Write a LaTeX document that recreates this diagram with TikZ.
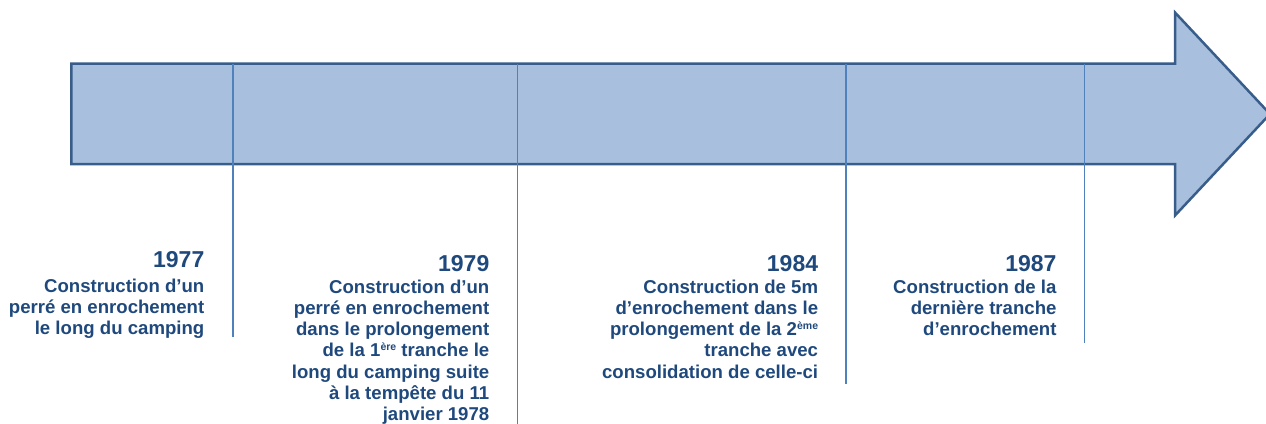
\documentclass[tikz,border=0pt]{standalone}
\usepackage{fontspec}
\setmainfont{Liberation Sans}
\definecolor{fillc}{HTML}{A8C0DE}
\definecolor{edgec}{HTML}{385D8A}
\definecolor{linec}{HTML}{4F81BD}
\definecolor{txt}{HTML}{1F497D}
\newcommand\supxx[1]{\raisebox{6pt}{\fontsize{10.5}{11}\selectfont #1}}
\begin{document}
\begin{tikzpicture}[x=1pt,y=-1pt,
  yearlbl/.style={anchor=base east, inner sep=0pt, text=txt, font=\bfseries\fontsize{23}{26}\selectfont},
  desclbl/.style={anchor=base east, inner sep=0pt, text=txt, font=\bfseries\fontsize{18.6}{21.2}\selectfont},
  tick/.style={draw=linec, line width=1.6pt},
  arrowbody/.style={fill=fillc, draw=edgec, line width=2.5pt, line join=miter}]
\useasboundingbox (0,0) rectangle (1266,423);
\draw[arrowbody] (71.3,63.5) -- (1175,63.5) -- (1175,12.5) -- (1270,114) -- (1175,215.5) -- (1175,164) -- (71.3,164) -- cycle;
% tick coordinates
\coordinate (t1) at (233,64);   \coordinate (b1) at (233,337);
\coordinate (t2) at (517.5,64); \coordinate (b2) at (517.5,424);
\coordinate (t3) at (846,64);   \coordinate (b3) at (846,384);
\coordinate (t4) at (1084.5,64);\coordinate (b4) at (1084.5,343);
\draw[tick] (t1) -- (b1);
\draw[tick] (t2) -- (b2);
\draw[tick] (t3) -- (b3);
\draw[tick] (t4) -- (b4);
% labels
\node[yearlbl] (y1) at (204.5,267.5) {1977};
\node[desclbl] (d1) at (204.5,292.5) {\begin{tabular}[t]{@{}r@{}}Construction d’un\\perré en enrochement\\le long du camping\end{tabular}};
\node[yearlbl] (y2) at (489.5,271) {1979};
\node[desclbl] (d2) at (489.5,293.3) {\begin{tabular}[t]{@{}r@{}}Construction d’un\\perré en enrochement\\dans le prolongement\\de la 1\supxx{ère} tranche le\\long du camping suite\\à la tempête du 11\\janvier 1978\end{tabular}};
\node[yearlbl] (y3) at (818.3,271) {1984};
\node[desclbl] (d3) at (818.3,293.3) {\begin{tabular}[t]{@{}r@{}}Construction de 5m\\d’enrochement dans le\\prolongement de la 2\supxx{ème}\\tranche avec\\consolidation de celle-ci\end{tabular}};
\node[yearlbl] (y4) at (1056.7,271) {1987};
\node[desclbl] (d4) at (1056.7,293.3) {\begin{tabular}[t]{@{}r@{}}Construction de la\\dernière tranche\\d’enrochement\end{tabular}};
\end{tikzpicture}
\end{document}
